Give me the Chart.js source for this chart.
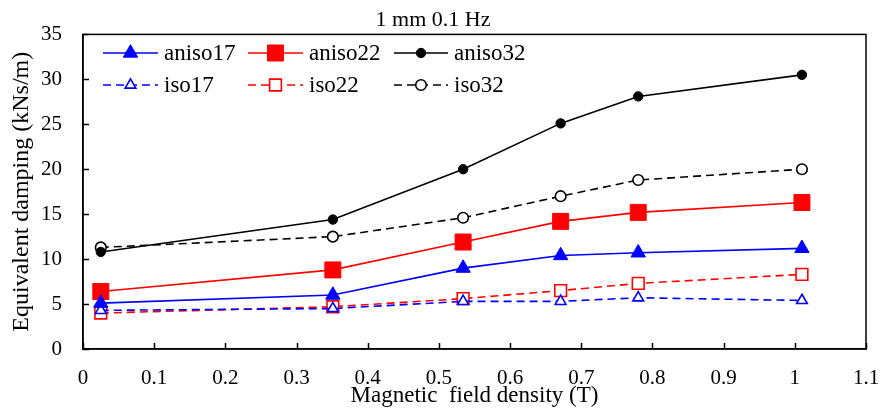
<!DOCTYPE html>
<html>
<head>
<meta charset="utf-8">
<script src="https://cdn.jsdelivr.net/npm/chart.js@4/dist/chart.umd.min.js"></script>
<style>
  html, body { margin: 0; padding: 0; background: #fff; }
  #wrap { width: 882px; height: 412px; }
</style>
</head>
<body>
<div id="wrap"><canvas id="c" width="882" height="412"></canvas></div>
<script>
// Magnetic field density (T) at each measurement
const fieldDensity = [0.025, 0.351, 0.534, 0.671, 0.780, 1.010];

// Equivalent damping (kNs/m), anisotropic samples
const aniso17 = [5.1, 6.0, 9.0, 10.4, 10.7, 11.2];
const aniso22 = [6.4, 8.8, 11.9, 14.2, 15.2, 16.3];
const aniso32 = [10.8, 14.4, 20.0, 25.1, 28.1, 30.5];

// Equivalent damping (kNs/m), isotropic samples
const iso17 = [4.3, 4.5, 5.3, 5.3, 5.7, 5.4];
const iso22 = [4.0, 4.7, 5.6, 6.5, 7.3, 8.3];
const iso32 = [11.3, 12.5, 14.6, 17.0, 18.8, 20.0];

// Axis ticks
const xTicks = [0, 0.1, 0.2, 0.3, 0.4, 0.5, 0.6, 0.7, 0.8, 0.9, 1, 1.1];
const yTicks = [0, 5, 10, 15, 20, 25, 30, 35];

const FONT = "'Liberation Serif', 'Times New Roman', serif";
const BLUE = '#0000ff', RED = '#ff0000', BLACK = '#000000';

function pts(values) {
  return values.map((v, i) => ({ x: fieldDensity[i], y: v }));
}

function series(label, values, color, dashed, style, radius, filled) {
  return {
    label: label,
    data: pts(values),
    borderColor: color,
    borderWidth: 1.6,
    borderDash: dashed ? [8, 5] : [],
    pointStyle: style,
    pointRadius: radius,
    pointHoverRadius: radius,
    pointBorderColor: color,
    pointBackgroundColor: filled ? color : '#ffffff',
    pointBorderWidth: filled ? 1 : 1.6,
    tension: 0,
    fill: false
  };
}

const datasets = [
  series('aniso17', aniso17, BLUE, false, 'triangle', 8.3, true),
  series('aniso22', aniso22, RED, false, 'rect', 11.3, true),
  series('aniso32', aniso32, BLACK, false, 'circle', 4.7, true),
  series('iso17', iso17, BLUE, true, 'triangle', 6.2, false),
  series('iso22', iso22, RED, true, 'rect', 8.3, false),
  series('iso32', iso32, BLACK, true, 'circle', 5.3, false)
];

// Legend slots: three columns, two rows, inside the plot frame
const legendCols = [{ x1: 103, x2: 158, tx: 164 }, { x1: 248, x2: 303, tx: 309 }, { x1: 394, x2: 448, tx: 454 }];
const legendRows = [53, 85];

const framePlugin = {
  id: 'frameAndTicks',
  beforeDatasetsDraw(chart) {
    const { ctx, chartArea: a, scales } = chart;
    ctx.save();
    ctx.strokeStyle = '#000';
    ctx.lineWidth = 1.5;
    ctx.strokeRect(a.left, a.top, a.right - a.left, a.bottom - a.top);
    ctx.beginPath();
    xTicks.forEach(v => {
      const px = Math.round(scales.x.getPixelForValue(v)) + 0.5;
      ctx.moveTo(px, a.bottom);
      ctx.lineTo(px, a.bottom - 6);
    });
    yTicks.forEach(v => {
      const py = Math.round(scales.y.getPixelForValue(v)) + 0.5;
      ctx.moveTo(a.left, py);
      ctx.lineTo(a.left + 6, py);
    });
    ctx.stroke();
    ctx.restore();
  }
};

const legendPlugin = {
  id: 'insideLegend',
  afterDatasetsDraw(chart) {
    const ctx = chart.ctx;
    chart.data.datasets.forEach((ds, i) => {
      const col = legendCols[i % 3];
      const y = legendRows[Math.floor(i / 3)];
      ctx.save();
      ctx.strokeStyle = ds.borderColor;
      ctx.lineWidth = ds.borderWidth;
      ctx.setLineDash(ds.borderDash);
      ctx.beginPath();
      ctx.moveTo(col.x1, y);
      ctx.lineTo(col.x2, y);
      ctx.stroke();
      ctx.setLineDash([]);
      ctx.fillStyle = ds.pointBackgroundColor;
      ctx.strokeStyle = ds.pointBorderColor;
      ctx.lineWidth = ds.pointBorderWidth;
      Chart.helpers.drawPoint(ctx, {
        pointStyle: ds.pointStyle,
        radius: ds.pointRadius,
        borderWidth: ds.pointBorderWidth,
        rotation: 0
      }, (col.x1 + col.x2) / 2, y);
      ctx.fillStyle = '#000';
      ctx.font = '23px ' + FONT;
      ctx.textAlign = 'left';
      ctx.textBaseline = 'middle';
      ctx.fillText(ds.label, col.tx, y + 1);
      ctx.restore();
    });
  }
};

new Chart(document.getElementById('c'), {
  type: 'line',
  data: { datasets: datasets },
  options: {
    responsive: false,
    devicePixelRatio: 1,
    animation: false,
    layout: { padding: { left: 0, right: 16, top: 0, bottom: 0 } },
    plugins: {
      legend: { display: false },
      tooltip: { enabled: false },
      title: {
        display: true,
        text: '1 mm 0.1 Hz',
        color: '#000',
        font: { family: FONT, size: 22, weight: 'normal' },
        padding: { top: 7, bottom: 1 }
      }
    },
    scales: {
      x: {
        type: 'linear',
        min: 0,
        max: 1.1,
        afterBuildTicks: s => { s.ticks = xTicks.map(v => ({ value: v })); },
        afterFit: s => { s.height = 63; s.paddingLeft = 0; s.paddingRight = 0; },
        grid: { display: true, drawOnChartArea: false, drawTicks: false },
        border: { display: true, color: '#000', width: 1.5 },
        ticks: {
          color: '#000',
          font: { family: FONT, size: 21 },
          padding: 17,
          maxRotation: 0,
          autoSkip: false,
          callback: v => String(Number(v.toFixed(1)))
        },
        title: {
          display: true,
          text: 'Magnetic  field density (T)',
          color: '#000',
          font: { family: FONT, size: 23 },
          padding: { top: 0, bottom: 2 }
        }
      },
      y: {
        type: 'linear',
        min: 0,
        max: 35,
        afterBuildTicks: s => { s.ticks = yTicks.map(v => ({ value: v })); },
        afterFit: s => { s.width = 83; s.paddingTop = 0; s.paddingBottom = 0; },
        grid: { display: true, drawOnChartArea: false, drawTicks: false },
        border: { display: true, color: '#000', width: 1.5 },
        ticks: {
          color: '#000',
          font: { family: FONT, size: 21 },
          padding: 21,
          autoSkip: false
        },
        title: {
          display: true,
          text: 'Equivalent damping (kNs/m)',
          color: '#000',
          font: { family: FONT, size: 24 },
          padding: { top: 7, bottom: 0 }
        }
      }
    }
  },
  plugins: [framePlugin, legendPlugin]
});
</script>
</body>
</html>
